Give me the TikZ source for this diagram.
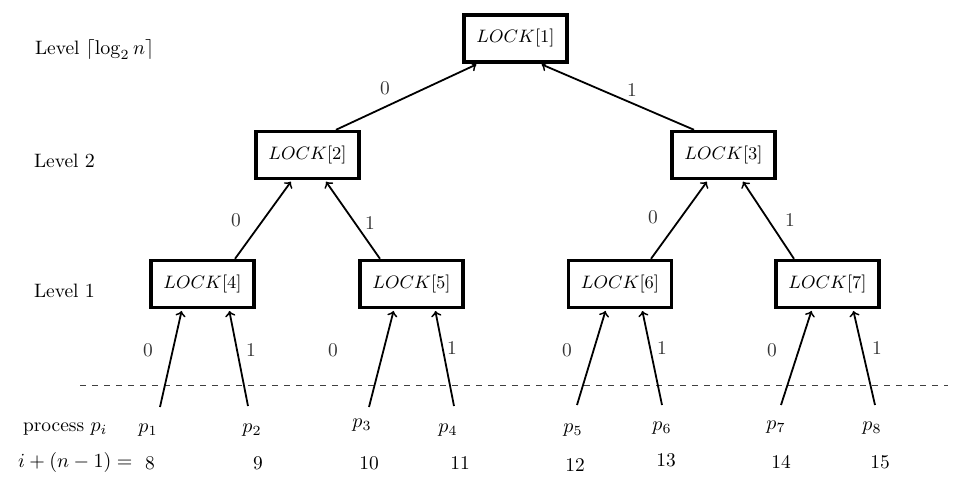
\documentclass[tikz,border=0pt]{standalone}
\usetikzlibrary{calc}
\begin{document}
\begin{tikzpicture}[x=0.5pt,y=-0.5pt,
  font=\fontsize{9.7}{11.5}\selectfont,
  lockbox/.style={draw,line width=1.7pt,minimum width=51.5pt,minimum height=23.5pt,inner sep=0pt,font=\fontsize{9.3}{11}\selectfont},
  edge/.style={->,line width=0.9pt,shorten >=0.9pt},
  elabel/.style={text=black!80},
  side/.style={anchor=west},
  plabel/.style={},
  dline/.style={dashed,line width=0.5pt,black!75}]
\useasboundingbox (0,0) rectangle (964,492);

% lock nodes
\node[lockbox] (L1) at (515.5,38.5) {$LOCK[1]$};
\node[lockbox] (L2) at (307.5,155) {$LOCK[2]$};
\node[lockbox] (L3) at (723.5,155) {$LOCK[3]$};
\node[lockbox] (L4) at (202.5,284) {$LOCK[4]$};
\node[lockbox] (L5) at (411.5,284) {$LOCK[5]$};
\node[lockbox] (L6) at (620,284) {$LOCK[6]$};
\node[lockbox] (L7) at (827.5,284) {$LOCK[7]$};

% level labels
\node[side] (lvtop) at (28,50) {Level $\lceil\log_2 n\rceil$};
\node[side] (lv2) at (27,161) {Level $2$};
\node[side] (lv1) at (27,291) {Level $1$};
\node[side] (proc) at (16,429) {process $p_i$};
\node[side] (idx) at (11,462) {$i+(n-1)=$};

% tree edges
\draw[edge] ($(L2.north)+(28.5,0)$) -- ($(L1.south)+(-37.5,0)$);
\draw[edge] ($(L3.north)+(-29.5,0)$) -- ($(L1.south)+(24.5,0)$);
\draw[edge] ($(L4.north)+(32.5,0)$) -- ($(L2.south)+(-15.5,0)$);
\draw[edge] ($(L5.north)+(-31.5,0)$) -- ($(L2.south)+(17.5,0)$);
\draw[edge] ($(L6.north)+(31,0)$) -- ($(L3.south)+(-15.5,0)$);
\draw[edge] ($(L7.north)+(-33.5,0)$) -- ($(L3.south)+(18.5,0)$);

\node[elabel] (e21) at (385,88) {0};
\node[elabel] (e31) at (632,90) {1};
\node[elabel] (e42) at (236,220) {0};
\node[elabel] (e52) at (370,223) {1};
\node[elabel] (e63) at (653,217) {0};
\node[elabel] (e73) at (790,220) {1};

% dashed line
\coordinate (dl) at (80,385);
\coordinate (dr) at (948,385);
\draw[dline] (dl) -- (dr);

% process tails
\coordinate (t1) at (160,407);
\coordinate (t2) at (248,406);
\coordinate (t3) at (369,407);
\coordinate (t4) at (454,406);
\coordinate (t5) at (577,405);
\coordinate (t6) at (662,405);
\coordinate (t7) at (781,405);
\coordinate (t8) at (875,405);

\draw[edge] (t1) -- ($(L4.south)+(-20.5,0)$);
\draw[edge] (t2) -- ($(L4.south)+(26.5,0)$);
\draw[edge] (t3) -- ($(L5.south)+(-17.5,0)$);
\draw[edge] (t4) -- ($(L5.south)+(23.5,0)$);
\draw[edge] (t5) -- ($(L6.south)+(-14,0)$);
\draw[edge] (t6) -- ($(L6.south)+(22,0)$);
\draw[edge] (t7) -- ($(L7.south)+(-15.5,0)$);
\draw[edge] (t8) -- ($(L7.south)+(25.5,0)$);

\node[elabel] (q1) at (148,350) {0};
\node[elabel] (q2) at (251,350) {1};
\node[elabel] (q3) at (333,350) {0};
\node[elabel] (q4) at (452,348) {1};
\node[elabel] (q5) at (567,350) {0};
\node[elabel] (q6) at (662,348) {1};
\node[elabel] (q7) at (772,350) {0};
\node[elabel] (q8) at (877,348) {1};

% process names
\node[plabel] (p1) at (148,430) {$p_1$};
\node[plabel] (p2) at (252,430) {$p_2$};
\node[plabel] (p3) at (362,425) {$p_3$};
\node[plabel] (p4) at (448,430) {$p_4$};
\node[plabel] (p5) at (573,430) {$p_5$};
\node[plabel] (p6) at (662,428) {$p_6$};
\node[plabel] (p7) at (776,427) {$p_7$};
\node[plabel] (p8) at (872,428) {$p_8$};

% indices
\node (n8) at (150,463) {8};
\node (n9) at (258,463) {9};
\node (n10) at (369,463) {10};
\node (n11) at (460,463) {11};
\node (n12) at (575,465) {12};
\node (n13) at (666,460) {13};
\node (n14) at (781,462) {14};
\node (n15) at (880,462) {15};
\end{tikzpicture}
\end{document}
